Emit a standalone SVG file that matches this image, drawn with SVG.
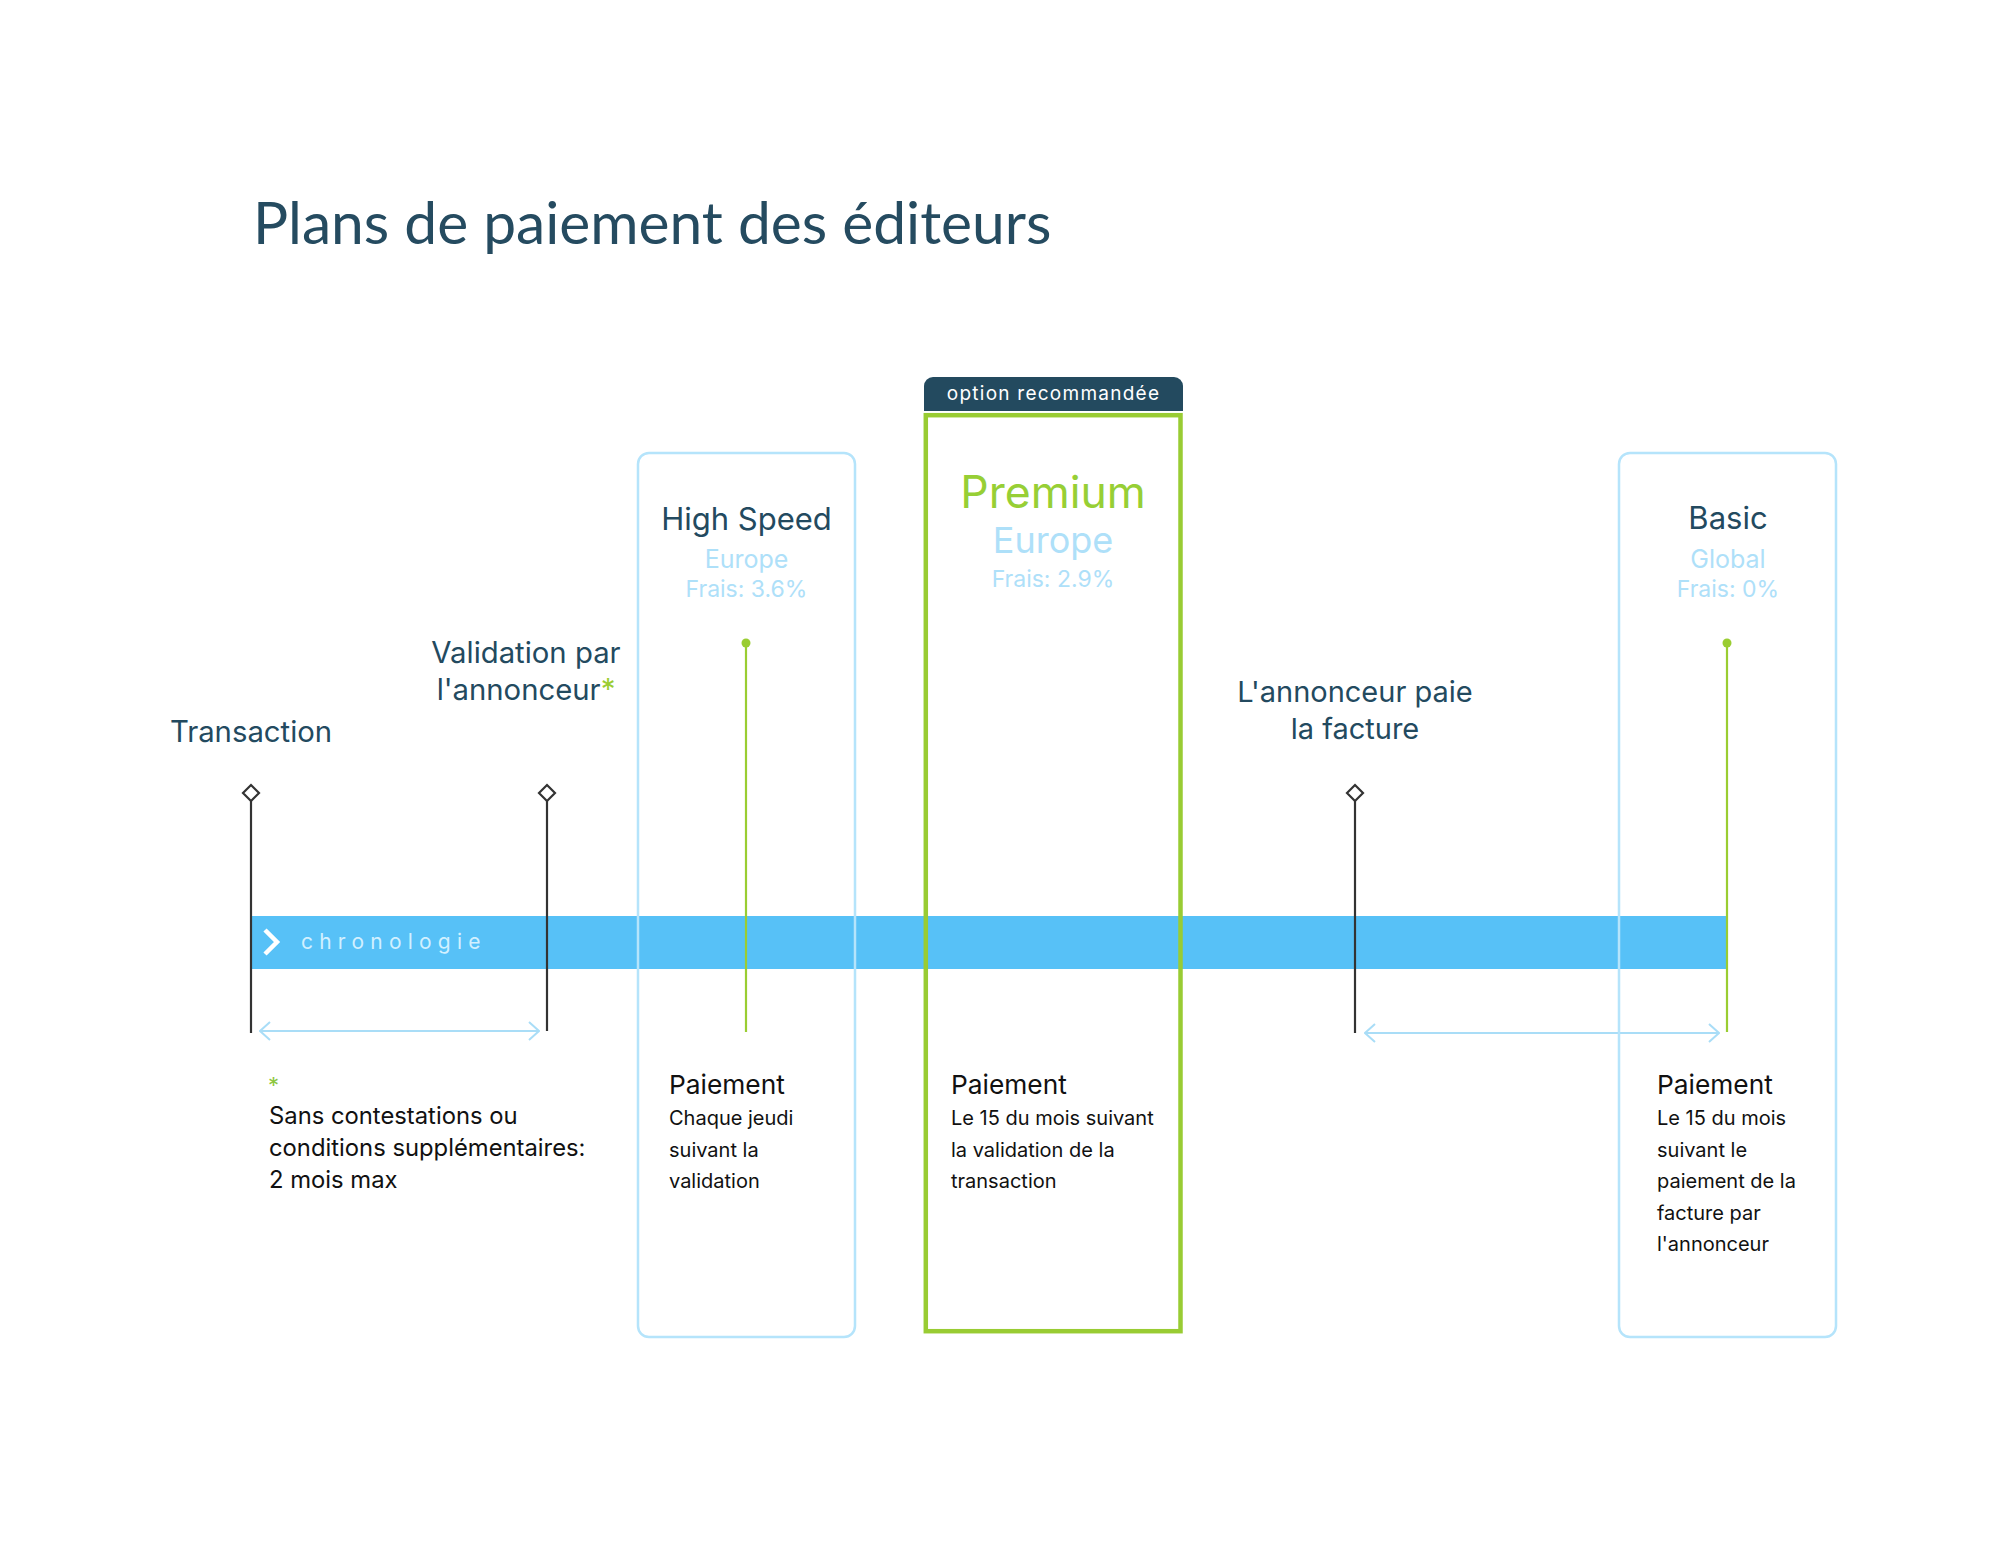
<svg xmlns="http://www.w3.org/2000/svg" width="2013" height="1562" viewBox="0 0 2013 1562">
<defs>
<style>
.t{font-family:Inter,"Open Sans",sans-serif}
.navy{fill:#234a5f}
.lb{fill:#aee0f9}
.body{fill:#111;font-family:Inter,"Open Sans",sans-serif}
.box{fill:none;stroke:#b5e4fb;stroke-width:2.5}
.ms{stroke:#333;stroke-width:2.2;fill:none}
.gl{stroke:#9acd32;stroke-width:2.2}
.rng{stroke:#a9ddf7;stroke-width:2;fill:none}
</style>
<marker id="ah" viewBox="0 0 12 20" refX="11" refY="10" markerWidth="12" markerHeight="20" markerUnits="userSpaceOnUse" orient="auto-start-reverse">
<path d="M1 1 L11 10 L1 19" fill="none" stroke="#a9ddf7" stroke-width="2"/>
</marker>
</defs>
<rect width="2013" height="1562" fill="#fff"/>
<text id="title" x="253" y="244" font-family="Lato,'Open Sans',sans-serif" font-size="58.7" fill="#254b60">Plans de paiement des éditeurs</text>

<rect id="timeline-bar" x="251" y="916" width="1476" height="53" fill="#57c1f7"/>
<g id="timeline-label">
<path d="M265 930 L277 942 L265 954" fill="none" stroke="#fff" stroke-width="4.5"/>
<text x="301" y="949" class="t" font-size="21" letter-spacing="6.2" fill="#d2f0ff">chronologie</text>
</g>

<g id="connectors">
<line class="ms" x1="251" y1="801" x2="251" y2="1033"/>
<path class="ms" d="M251 785 L259 793 L251 801 L243 793 Z"/>
<line class="ms" x1="547" y1="801" x2="547" y2="1031"/>
<path class="ms" d="M547 785 L555 793 L547 801 L539 793 Z"/>
<line class="ms" x1="1355" y1="801" x2="1355" y2="1033"/>
<path class="ms" d="M1355 785 L1363 793 L1355 801 L1347 793 Z"/>
<line class="gl" x1="746" y1="643" x2="746" y2="1032"/>
<circle cx="746" cy="643" r="4.5" fill="#9acd32"/>
<line class="gl" x1="1727" y1="643" x2="1727" y2="1032"/>
<circle cx="1727" cy="643" r="4.5" fill="#9acd32"/>
<line class="rng" x1="260" y1="1031" x2="539" y2="1031" marker-start="url(#ah)" marker-end="url(#ah)"/>
<line class="rng" x1="1365" y1="1033" x2="1719" y2="1033" marker-start="url(#ah)" marker-end="url(#ah)"/>
</g>

<g id="transaction">
<text x="251" y="742" class="t navy" font-size="29.3" text-anchor="middle">Transaction</text>
</g>
<g id="validation">
<text x="526" y="663" class="t navy" font-size="29.3" text-anchor="middle">Validation par</text>
<text x="526" y="700" class="t navy" font-size="29.3" text-anchor="middle">l'annonceur<tspan fill="#9acd32">*</tspan></text>
</g>
<g id="invoice">
<text x="1355" y="702" class="t navy" font-size="29" text-anchor="middle">L'annonceur paie</text>
<text x="1355" y="739" class="t navy" font-size="29" text-anchor="middle">la facture</text>
</g>

<g id="high-speed">
<rect class="box" x="638" y="453" width="217" height="884" rx="11"/>
<text x="746.5" y="530" class="t navy" font-size="31" text-anchor="middle">High Speed</text>
<text x="746.5" y="568" class="t lb" font-size="25" text-anchor="middle">Europe</text>
<text x="746.5" y="597" class="t lb" font-size="23" text-anchor="middle">Frais: 3.6%</text>
<text x="669" y="1094" class="body" font-size="26.3">Paiement</text>
<text class="body" font-size="20"><tspan x="669" y="1125">Chaque jeudi</tspan><tspan x="669" y="1156.5">suivant la</tspan><tspan x="669" y="1188">validation</tspan></text>
</g>

<g id="premium">
<path d="M924 411 V386 a9 9 0 0 1 9 -9 H1174 a9 9 0 0 1 9 9 V411 Z" fill="#234a5f"/>
<text x="1053.5" y="400" class="t" font-size="19" letter-spacing="1.25" fill="#fff" text-anchor="middle">option recommandée</text>
<rect x="925.8" y="415.2" width="254.7" height="916" fill="none" stroke="#99cc33" stroke-width="4.5"/>
<text x="1053" y="508" class="t" font-size="44.5" fill="#97cf35" text-anchor="middle">Premium</text>
<text x="1053" y="553" class="t lb" font-size="36" text-anchor="middle">Europe</text>
<text x="1053" y="587" class="t lb" font-size="23" text-anchor="middle">Frais: 2.9%</text>
<text x="951" y="1094" class="body" font-size="26.3">Paiement</text>
<text class="body" font-size="20"><tspan x="951" y="1125">Le 15 du mois suivant</tspan><tspan x="951" y="1156.5">la validation de la</tspan><tspan x="951" y="1188">transaction</tspan></text>
</g>

<g id="basic">
<rect class="box" x="1619" y="453" width="217" height="884" rx="11"/>
<text x="1728" y="529" class="t navy" font-size="31" text-anchor="middle">Basic</text>
<text x="1728" y="568" class="t lb" font-size="25" text-anchor="middle">Global</text>
<text x="1728" y="597" class="t lb" font-size="23" text-anchor="middle">Frais: 0%</text>
<text x="1657" y="1094" class="body" font-size="26.3">Paiement</text>
<text class="body" font-size="20"><tspan x="1657" y="1125">Le 15 du mois</tspan><tspan x="1657" y="1156.5">suivant le</tspan><tspan x="1657" y="1188">paiement de la</tspan><tspan x="1657" y="1219.5">facture par</tspan><tspan x="1657" y="1251">l'annonceur</tspan></text>
</g>

<g id="note">
<text x="268" y="1093" class="t" font-size="22" fill="#8dc63f">*</text>
<text class="body" font-size="23.8"><tspan x="269" y="1124">Sans contestations ou</tspan><tspan x="269" y="1156">conditions supplémentaires:</tspan><tspan x="269" y="1188">2 mois max</tspan></text>
</g>
</svg>
